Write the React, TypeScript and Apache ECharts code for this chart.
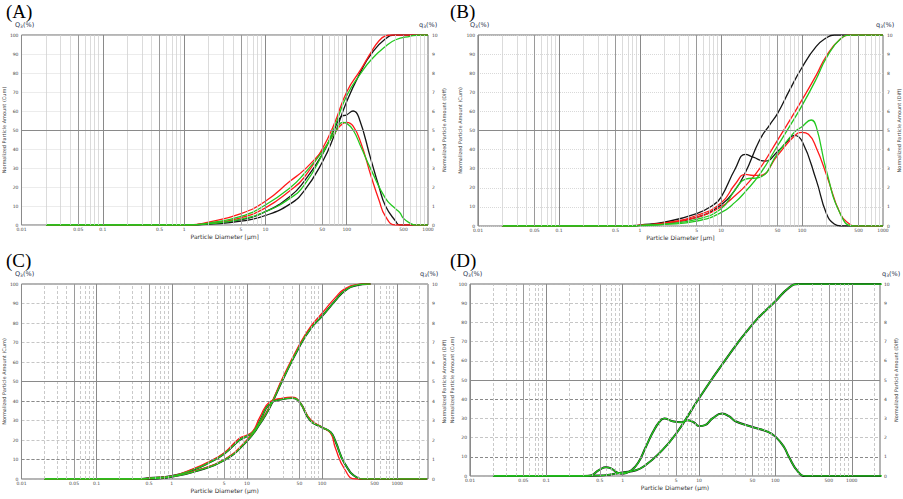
import React, { useEffect, useRef } from "react";
import * as echarts from "echarts";

// ---------- Tick labels ----------
const xTickLabels = [0.01, 0.05, 0.1, 0.5, 1, 5, 10, 50, 100, 500, 1000];

// ---------- Panel A (diameter µm, value) ----------
const aCumRed: [number, number][] = [[0.02,0],[1,0],[2,0.8],[5,3.8],[10,9],[20,18],[30,25],[50,40],[70,53],[100,70],[150,82],[200,91],[250,97],[300,99.5],[350,100],[1000,100]];
const aCumBlack: [number, number][] = [[0.02,0],[1.2,0],[2,0.4],[5,2],[10,5],[20,11],[30,18],[50,33],[70,47],[100,65],[150,81],[200,90],[300,98],[400,100],[1000,100]];
const aCumGreen: [number, number][] = [[0.02,0],[1,0],[2,0.6],[5,3],[10,7],[20,14],[30,21],[50,37],[70,51],[100,68],[150,80],[200,87],[300,94],[400,97.5],[600,99.3],[800,100],[1000,100]];
const aDifRed: [number, number][] = [[0.02,0],[1.2,0],[2,0.15],[5,0.6],[10,1.25],[20,2.3],[30,2.9],[50,3.9],[70,4.8],[90,5.35],[100,5.4],[120,5.2],[150,4.3],[200,2.55],[250,1.3],[300,0.45],[400,0],[1000,0]];
const aDifBlack: [number, number][] = [[0.02,0],[1.2,0],[2,0.08],[5,0.28],[10,0.7],[20,1.5],[30,2.3],[50,3.7],[70,5.0],[85,5.7],[100,5.8],[120,6.0],[140,5.7],[200,3.4],[250,2.0],[300,1.0],[400,0.2],[450,0],[1000,0]];
const aDifGreen: [number, number][] = [[0.02,0],[1.2,0],[2,0.1],[5,0.45],[10,1.05],[20,1.95],[30,2.7],[50,3.85],[70,4.8],[90,5.4],[100,5.35],[120,5.0],[150,4.1],[200,2.9],[300,1.4],[400,0.85],[450,0.65],[500,0.35],[600,0.1],[700,0],[1000,0]];

// ---------- Panel B ----------
const bCumBlack: [number, number][] = [[0.02,0],[0.7,0],[1,0.3],[2,1.5],[5,4.5],[10,11],[15,19],[20,28],[30,45],[40,53],[50,59],[70,71],[100,83],[150,94],[200,98.5],[250,100],[1000,100]];
const bCumRed: [number, number][] = [[0.02,0],[0.7,0],[1,0.3],[2,1.5],[5,4.5],[10,10],[15,16],[20,21],[30,30],[50,45],[70,55],[100,66],[150,79],[200,89],[300,98],[400,100],[1000,100]];
const bCumGreen: [number, number][] = [[0.02,0],[0.8,0],[1,0.2],[2,0.8],[5,2.5],[10,7],[15,12.5],[20,18],[30,27],[50,42],[70,52],[100,63],[150,77],[200,88],[300,98],[420,100],[1000,100]];
const bDifBlack: [number, number][] = [[0.02,0],[0.7,0],[1,0.05],[2,0.2],[5,0.65],[8,1.1],[10,1.5],[15,3.0],[20,3.75],[25,3.6],[35,3.4],[50,3.9],[65,4.4],[80,4.75],[100,4.45],[150,2.4],[200,0.65],[250,0.1],[300,0],[1000,0]];
const bDifRed: [number, number][] = [[0.02,0],[0.7,0],[1,0.05],[2,0.15],[5,0.55],[10,1.2],[15,2.2],[20,2.7],[25,2.65],[30,2.65],[50,3.7],[80,4.7],[100,4.9],[120,4.8],[150,4.1],[200,2.7],[300,0.6],[400,0.05],[430,0],[1000,0]];
const bDifGreen: [number, number][] = [[0.02,0],[0.8,0],[1,0.03],[2,0.1],[5,0.35],[10,0.9],[15,1.9],[20,2.45],[30,2.55],[50,3.8],[80,4.9],[100,5.2],[130,5.55],[150,5.2],[200,2.9],[300,0.6],[430,0],[1000,0]];

// ---------- Panel C ----------
const cCumRed: [number, number][] = [[0.02,0],[0.4,0],[0.7,0.5],[1,1.3],[2,4],[5,10],[10,20],[15,29],[20,37],[30,52],[50,69],[70,78],[100,85],[150,93],[200,97.5],[300,99.8],[350,100],[440,100]];
const cCumBlack: [number, number][] = [[0.02,0],[0.4,0],[0.7,0.4],[1,1.2],[2,3.8],[5,9.7],[10,19.5],[15,28.5],[20,36.5],[30,51],[50,68],[70,77],[100,83.5],[150,91.5],[200,96.5],[300,99.5],[400,100],[440,100]];
const cCumGreen: [number, number][] = [[0.02,0],[0.4,0],[0.7,0.4],[1,1.2],[2,3.8],[5,9.7],[10,19.5],[15,28.5],[20,36.5],[30,51],[50,68],[70,77],[100,83.5],[150,91.5],[200,96.5],[300,99.5],[400,100],[440,100]];
const cDifRed: [number, number][] = [[0.02,0],[0.4,0],[0.5,0.05],[1,0.15],[2,0.55],[3,0.85],[5,1.35],[8,2.1],[10,2.25],[12,2.45],[15,3.2],[20,3.95],[30,4.15],[40,4.2],[50,3.95],[70,3.05],[100,2.65],[130,2.35],[150,1.6],[200,0.5],[280,0],[2500,0]];
const cDifBlack: [number, number][] = [[0.02,0],[0.4,0],[0.5,0.05],[1,0.15],[2,0.5],[3,0.8],[5,1.3],[8,2.0],[10,2.2],[12,2.4],[15,3.0],[20,3.85],[30,4.1],[40,4.15],[50,3.95],[70,3.0],[100,2.65],[130,2.4],[150,1.95],[200,0.8],[300,0.05],[350,0],[2500,0]];
const cDifGreen: [number, number][] = [[0.02,0],[0.4,0],[0.5,0.05],[1,0.15],[2,0.5],[3,0.8],[5,1.3],[8,2.0],[10,2.2],[12,2.4],[15,3.0],[20,3.85],[30,4.1],[40,4.15],[50,3.95],[70,3.0],[100,2.65],[130,2.4],[150,1.95],[200,0.8],[300,0.05],[350,0],[2500,0]];

// ---------- Panel D ----------
const dCumBlack: [number, number][] = [[0.02,0],[0.3,0],[0.5,0.2],[0.7,0.8],[1,1.8],[1.5,3],[2,5.7],[3,11.8],[5,22],[10,40.5],[20,58],[50,79],[100,91],[150,98],[200,100],[2500,100]];
const dCumGreen: [number, number][] = [[0.02,0],[0.3,0],[0.5,0.2],[0.7,0.8],[1,1.8],[1.5,3],[2,5.7],[3,11.8],[5,22],[10,40.5],[20,58],[50,79],[100,91],[150,98],[200,100],[2500,100]];
const dDifBlack: [number, number][] = [[0.02,0],[0.35,0],[0.5,0.33],[0.6,0.45],[0.7,0.4],[0.85,0.18],[1,0.12],[1.3,0.3],[1.6,0.7],[2,1.5],[2.5,2.3],[3,2.8],[3.5,3.0],[4.5,2.85],[6,2.8],[7,2.9],[8.5,2.8],[10,2.6],[12,2.65],[15,3.0],[20,3.25],[25,3.1],[30,2.85],[50,2.55],[80,2.3],[100,2.05],[130,1.5],[150,1.0],[200,0.2],[250,0],[2500,0]];
const dDifGreen: [number, number][] = [[0.02,0],[0.35,0],[0.5,0.33],[0.6,0.45],[0.7,0.4],[0.85,0.18],[1,0.12],[1.3,0.3],[1.6,0.7],[2,1.5],[2.5,2.3],[3,2.8],[3.5,3.0],[4.5,2.85],[6,2.8],[7,2.9],[8.5,2.8],[10,2.6],[12,2.65],[15,3.0],[20,3.25],[25,3.1],[30,2.85],[50,2.55],[80,2.3],[100,2.05],[130,1.5],[150,1.0],[200,0.2],[250,0],[2500,0]];

const RED = "#ff1a1a";
const BLACK = "#151515";
const GREEN = "#22c81e";

type Curve = { data: [number, number][]; color: string; axis: 0 | 1; width?: number };

const panels = [
  {
    letter: "(A)", letterPos: [6, 2], q: [15, 21], qr: [419, 21],
    grid: { left: 19, top: 35, width: 409, height: 190 }, xmax: 3, dashed: false,
    xname: "Particle Diameter [µm]",
    curves: [
      { data: aCumBlack, color: BLACK, axis: 0 }, { data: aDifBlack, color: BLACK, axis: 1 },
      { data: aCumRed, color: RED, axis: 0 }, { data: aDifRed, color: RED, axis: 1 },
      { data: aCumGreen, color: GREEN, axis: 0 }, { data: aDifGreen, color: GREEN, axis: 1 },
    ] as Curve[],
  },
  {
    letter: "(B)", letterPos: [450, 2], q: [470, 21], qr: [876, 21],
    grid: { left: 478, top: 35, width: 405, height: 191 }, xmax: 3, dashed: false,
    xname: "Particle Diameter [µm]",
    curves: [
      { data: bCumBlack, color: BLACK, axis: 0 }, { data: bDifBlack, color: BLACK, axis: 1 },
      { data: bCumRed, color: RED, axis: 0 }, { data: bDifRed, color: RED, axis: 1 },
      { data: bCumGreen, color: GREEN, axis: 0 }, { data: bDifGreen, color: GREEN, axis: 1 },
    ] as Curve[],
  },
  {
    letter: "(C)", letterPos: [6, 251], q: [15, 270], qr: [420, 270],
    grid: { left: 21, top: 284, width: 407, height: 195 }, xmax: 3.41, dashed: true,
    xname: "Particle Diameter (µm)",
    curves: [
      { data: cCumBlack, color: BLACK, axis: 0, width: 2 }, { data: cDifBlack, color: BLACK, axis: 1, width: 2 },
      { data: cCumRed, color: RED, axis: 0 }, { data: cDifRed, color: RED, axis: 1 },
      { data: cCumGreen, color: GREEN, axis: 0 }, { data: cDifGreen, color: GREEN, axis: 1 },
    ] as Curve[],
  },
  {
    letter: "(D)", letterPos: [450, 251], q: [463, 270], qr: [882, 270],
    grid: { left: 470, top: 284, width: 410, height: 192 }, xmax: 3.37, dashed: true,
    xname: "Particle Diameter (µm)",
    curves: [
      { data: dCumBlack, color: BLACK, axis: 0, width: 2 }, { data: dDifBlack, color: BLACK, axis: 1, width: 2 },
      { data: dCumGreen, color: GREEN, axis: 0 }, { data: dDifGreen, color: GREEN, axis: 1 },
    ] as Curve[],
  },
];

const FONT = "DejaVu Sans";

function fmtX(v: number) {
  const p = Number(Math.pow(10, v).toPrecision(2));
  return String(p);
}

export default function App() {
  const ref = useRef<HTMLDivElement>(null);
  useEffect(() => {
    if (!ref.current) return;
    const chart = echarts.init(ref.current, undefined, { renderer: "svg" });
    const grids: any[] = [];
    const xAxes: any[] = [];
    const yAxes: any[] = [];
    const series: any[] = [];
    const graphics: any[] = [];

    panels.forEach((p, i) => {
      grids.push({ ...p.grid, show: true, borderColor: "#6a6a6a", borderWidth: 1, backgroundColor: "#fff", containLabel: false });
      xAxes.push({
        type: "value", gridIndex: i, min: -2, max: p.xmax,
        name: p.xname, nameLocation: "middle", nameGap: 8,
        nameTextStyle: { fontSize: 6, color: "#333", fontFamily: FONT },
        axisLine: { show: false }, axisTick: { show: false }, splitLine: { show: false },
        axisLabel: {
          customValues: xTickLabels.map((d) => Math.log10(d)),
          formatter: (v: number) => fmtX(v), fontSize: 4.5, color: "#444", margin: 2, fontFamily: FONT,
        },
      });
      yAxes.push({
        type: "value", gridIndex: i, min: 0, max: 100, interval: 10, position: "left",
        name: "Normalized Particle Amount (Cum)", nameLocation: "middle", nameGap: 9, nameRotate: 90,
        nameTextStyle: { fontSize: 5, color: "#444", fontFamily: FONT },
        axisLine: { show: false }, axisTick: { show: false },
        splitLine: { show: true, lineStyle: { color: p.dashed ? "#b8b8b8" : "#cfcfcf", type: p.dashed ? [3, 2] : [1, 1], width: 0.8 } },
        axisLabel: { fontSize: 4.5, color: "#444", margin: 3, fontFamily: FONT },
      });
      yAxes.push({
        type: "value", gridIndex: i, min: 0, max: 10, interval: 1, position: "right",
        name: "Normalized Particle Amount (Diff)", nameLocation: "middle", nameGap: 11, nameRotate: 90,
        nameTextStyle: { fontSize: 5, color: "#444", fontFamily: FONT },
        axisLine: { show: false }, axisTick: { show: false }, splitLine: { show: false },
        axisLabel: { fontSize: 4.5, color: "#444", margin: 4, fontFamily: FONT },
      });

      // grid lines (vertical log grid + special horizontal lines)
      const ml: any[] = [];
      for (let k = -2; k <= 3; k++) {
        for (let m = 1; m <= 9; m++) {
          const v = Math.log10(m * Math.pow(10, k));
          if (v <= -2.0001 || v >= p.xmax - 0.001) continue;
          const major = m === 1 || m === 5;
          ml.push({
            xAxis: v,
            lineStyle: major
              ? { color: m === 1 ? "#8a8a8a" : "#9a9a9a", type: "solid", width: 1 }
              : { color: p.dashed ? "#bdbdbd" : "#d2d2d2", type: p.dashed ? [3, 2] : "solid", width: 0.8 },
          });
        }
      }
      ml.push({ yAxis: 50, lineStyle: { color: "#8a8a8a", type: "solid", width: 1 } });
      if (p.dashed) {
        ml.push({ yAxis: 10, lineStyle: { color: "#8a8a8a", type: [3, 2], width: 1 } });
        ml.push({ yAxis: 40, lineStyle: { color: "#8a8a8a", type: [3, 2], width: 1 } });
      }
      series.push({
        type: "line", xAxisIndex: i, yAxisIndex: i * 2, data: [], silent: true,
        markLine: { silent: true, symbol: "none", label: { show: false }, animation: false, data: ml },
        z: 1,
      });

      p.curves.forEach((c) => {
        series.push({
          type: "line", xAxisIndex: i, yAxisIndex: i * 2 + c.axis,
          data: c.data.map(([d, v]) => [Math.log10(d), v]),
          showSymbol: false, smooth: 0.5,
          lineStyle: { color: c.color, width: c.width ?? 1.3 }, itemStyle: { color: c.color },
          z: 3, silent: true,
        });
      });

      graphics.push({
        type: "text", left: p.letterPos[0], top: p.letterPos[1],
        style: { text: p.letter, fontSize: 19, fontFamily: "Liberation Serif", fill: "#000" },
      });
      graphics.push({
        type: "text", left: p.q[0], top: p.q[1],
        style: {
          text: "{a|Q}{b|3}{a|(%)}", fill: "#2c3550",
          rich: { a: { fontSize: 6.5, fontFamily: FONT, fill: "#2c3550" }, b: { fontSize: 4.5, fontFamily: FONT, fill: "#2c3550", padding: [3, 0, 0, 0] } },
        },
      });
      graphics.push({
        type: "text", left: p.qr[0], top: p.qr[1],
        style: {
          text: "{a|q}{b|3}{a|(%)}", fill: "#2c3550",
          rich: { a: { fontSize: 6.5, fontFamily: FONT, fill: "#2c3550" }, b: { fontSize: 4.5, fontFamily: FONT, fill: "#2c3550", padding: [3, 0, 0, 0] } },
        },
      });
    });

    chart.setOption({
      animation: false,
      backgroundColor: "#fff",
      grid: grids,
      xAxis: xAxes,
      yAxis: yAxes,
      series,
      graphic: graphics,
    });
    return () => chart.dispose();
  }, []);
  return <div ref={ref} style={{ position: "absolute", left: 0, top: 0, width: 903, height: 499 }} />;
}
